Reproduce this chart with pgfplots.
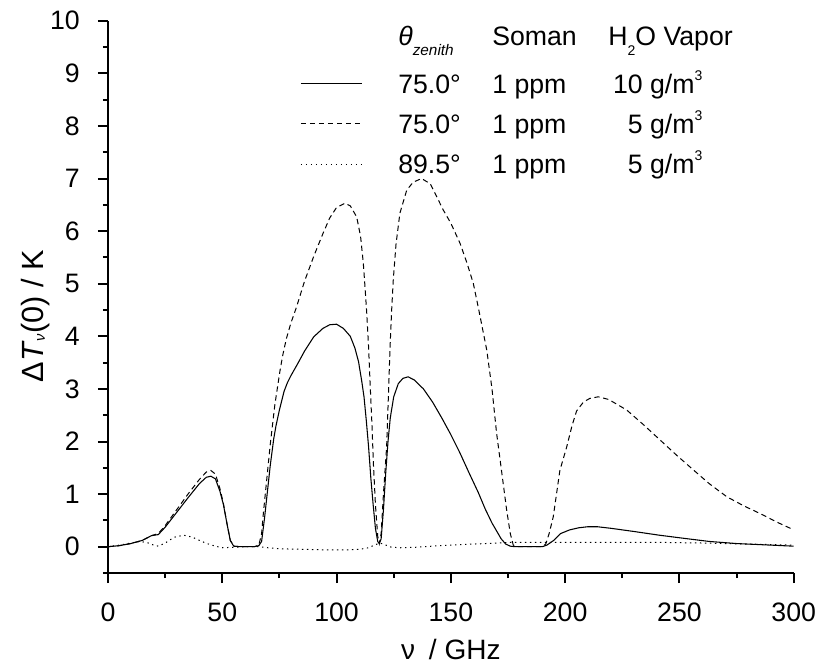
\documentclass[border=0pt]{standalone}
\usepackage{fontspec}
\setmainfont{Liberation Sans}
\usepackage{pgfplots}
\pgfplotsset{compat=1.18}
\usepackage{pgfplotstable}

\newcommand\sub[1]{\raisebox{-7.5pt}{\fontsize{10.5}{12}\selectfont #1}}
\newcommand\sups[1]{\raisebox{9.5pt}{\fontsize{10.5}{12}\selectfont #1}}

\pgfplotstableread{
x y
0 0
5 0.02
10 0.06
15 0.12
19 0.21
22 0.23
25 0.37
30 0.65
35 0.93
40 1.20
43 1.32
45 1.34
47 1.29
49 1.05
50.5 0.80
52 0.45
53.5 0.12
55 0.01
58 0
64 0
66 0.02
67.2 0.10
68.5 0.55
69.5 0.95
71 1.55
72.5 2.05
73.5 2.30
75 2.60
77 2.95
78.5 3.12
80 3.25
83 3.48
86 3.72
90 3.99
94 4.15
97 4.22
100 4.23
103 4.15
106 4.00
108 3.78
109.6 3.52
111 3.15
112 2.85
113 2.40
114 1.90
115 1.30
116 0.80
117 0.35
118 0.10
118.7 0.06
119.5 0.15
120.5 0.70
121.5 1.40
122.5 2.00
123.5 2.45
125 2.85
127 3.10
129 3.20
131.3 3.23
134 3.17
138 3.00
142 2.75
146 2.45
150 2.13
154 1.78
158 1.40
162 1.03
165 0.72
168 0.45
170 0.30
172 0.15
174 0.05
176 0.01
178 0
190 0
192 0.03
195 0.12
198 0.25
202 0.32
206 0.36
210 0.38
214 0.38
220 0.35
230 0.29
241 0.22
250 0.17
263 0.10
275 0.06
290 0.03
300 0.01
}\solid

\pgfplotstableread{
x y
0 0
5 0.02
10 0.06
15 0.12
19 0.21
22 0.25
25 0.40
30 0.70
35 1.00
40 1.28
43 1.42
45 1.45
47 1.38
49 1.10
50.5 0.82
52 0.45
53.5 0.12
55 0.01
58 0
64 0
66 0.03
67.2 0.25
68 0.65
69.5 1.30
71 1.95
73 2.70
75.3 3.36
76.5 3.65
78 3.95
80 4.25
82.5 4.56
86 5.05
90 5.52
94 5.95
97 6.25
100 6.45
103.7 6.53
106 6.48
108.8 6.27
110.5 5.90
111.7 5.39
112.5 4.90
113.2 4.44
114 3.80
114.6 3.17
115.5 2.30
116.1 1.59
117 0.80
118 0.20
118.7 0.06
119.5 0.25
120.5 1.00
121.9 1.90
122.7 2.90
123.4 3.80
124.1 4.50
124.8 5.07
126 5.75
127.7 6.34
130.7 6.78
133.5 6.93
137.2 7.00
141 6.90
146.7 6.40
150 6.15
154 5.77
157 5.40
159.8 5.01
162 4.55
165.7 3.74
168 3.00
170 2.16
172 1.50
174.4 0.70
176 0.25
177.3 0.03
179 0
190 0
191.5 0.05
193 0.25
194.8 0.57
197.7 1.45
200.7 1.90
203 2.30
205 2.58
208 2.75
210.8 2.82
214.5 2.85
219 2.80
226.9 2.60
234 2.33
241.5 2.03
249 1.73
256.1 1.46
263 1.20
270.7 0.95
278 0.78
285.3 0.63
293 0.46
300 0.32
}\dashedd

\pgfplotstableread{
x y
0 0
5 0.03
10 0.07
14 0.10
17 0.08
20 0.03
22 0.01
25 0.07
29 0.18
33 0.22
37 0.18
41 0.10
44 0.05
47 0.01
50 -0.02
55 -0.01
60 0.0
66 0.0
70 -0.02
75 -0.04
85 -0.05
95 -0.06
105 -0.06
110 -0.05
114 -0.02
117 0.04
119 0.07
121 0.04
124 -0.01
128 -0.02
135 -0.01
145 0.02
155 0.04
165 0.06
175 0.08
190 0.08
200 0.08
220 0.08
245 0.08
260 0.07
280 0.05
300 0.03
}\dotted

\begin{document}
\begin{tikzpicture}
\begin{axis}[
  scale only axis,
  width=514.3pt, height=414.2pt,
  xmin=0, xmax=300, ymin=-0.5, ymax=10,
  axis lines=left,
  axis line style={-, line width=1.5pt},
  xtick={0,50,...,300}, minor xtick={25,75,...,275},
  ytick={0,1,...,10}, minor ytick={-0.5,0.5,...,9.5},
  tick align=outside,
  major tick length=7.5pt, minor tick length=3.75pt,
  every tick/.style={black, line width=1.5pt},
  /pgf/number format/assume math mode=true,
  tick label style={font=\fontsize{20}{23}\selectfont},
  xticklabel style={anchor=base, yshift=-29pt},
  yticklabel style={anchor=east, inner sep=0pt, xshift=-13.5pt},
  xlabel={ν\hspace{4.5pt} / GHz},
  ylabel={Δ\textit{T}\raisebox{-1.3pt}{\fontsize{11}{12}\selectfont\itshape ν}(0) / K},
  xlabel style={font=\fontsize{21}{24}\selectfont, at={(axis description cs:0.5,-0.1575)}, anchor=base},
  ylabel style={font=\fontsize{23}{26}\selectfont, at={(axis description cs:-0.0944,0.465)}, anchor=base},
  legend cell align=left,
  legend image code/.code={\draw[#1] (0pt,0pt) -- (45.75pt,0pt); \path (72.75pt,0pt);},
  legend style={draw=none, fill=none, inner sep=0pt,
    at={(axis description cs:0.28,0.977)}, anchor=north west,
    font=\fontsize{20}{24}\selectfont,
    row sep=15.9pt, column sep=0pt,
    nodes={inner sep=0pt, text height=14.3pt, text depth=0pt}},
]
\addlegendimage{empty legend}
\addlegendentry{\raisebox{5.6pt}{\makebox[70.5pt][l]{\textit{θ}\raisebox{-7.5pt}{\fontsize{11.5}{12}\selectfont\itshape zenith}}\makebox[87pt][l]{Soman}\makebox[70.5pt][l]{H\sub{2}O Vapor}}}
\addplot[black, line width=0.8pt] table[x=x,y=y] {\solid};
\addlegendentry{\makebox[70.5pt][l]{75.0°}\makebox[87pt][l]{1 ppm}\makebox[70.5pt][r]{10 g/m\sups{3}}}
\addplot[black, line width=0.75pt, dash pattern=on 4pt off 2.75pt] table[x=x,y=y] {\dashedd};
\addlegendentry{\makebox[70.5pt][l]{75.0°}\makebox[87pt][l]{1 ppm}\makebox[70.5pt][r]{5 g/m\sups{3}}}
\addplot[black, line width=0.75pt, dash pattern=on 1pt off 2.75pt] table[x=x,y=y] {\dotted};
\addlegendentry{\makebox[70.5pt][l]{89.5°}\makebox[87pt][l]{1 ppm}\makebox[70.5pt][r]{5 g/m\sups{3}}}
\end{axis}
\pgfresetboundingbox
\path[use as bounding box] (-81pt,-69pt) rectangle (530.25pt,429.75pt);
\end{tikzpicture}
\end{document}
